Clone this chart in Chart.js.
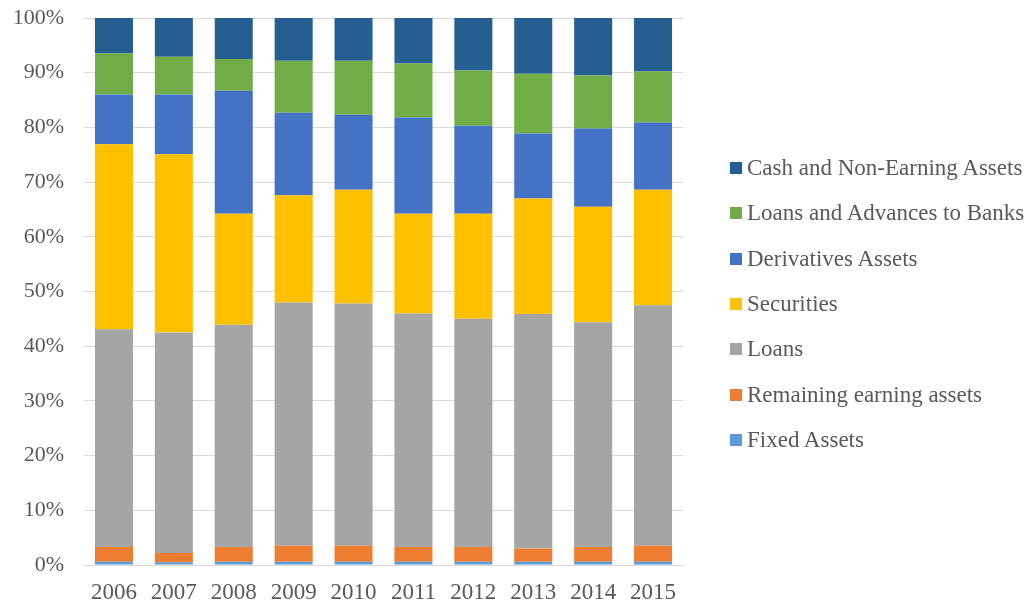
<!DOCTYPE html>
<html>
<head>
<meta charset="utf-8">
<script src="https://cdn.jsdelivr.net/npm/chart.js@4"></script>
<style>
  html, body { margin: 0; padding: 0; background: #fff; }
  #wrap { width: 1030px; height: 605px; position: relative; }
  #assetChart { position: absolute; left: 0; top: 0; }
  #legend { position: absolute; left: 730px; top: 0; }
  .legend-item {
    position: absolute; left: 0; white-space: nowrap;
    font-family: 'Liberation Serif', 'Times New Roman', serif;
    font-size: 23px; color: #595959; line-height: 26px;
  }
  .legend-item span.box {
    display: inline-block; width: 12px; height: 12px; margin-right: 5px;
    vertical-align: 1px;
  }
</style>
</head>
<body>
<div id="wrap">
  <canvas id="assetChart" width="1030" height="605"></canvas>
  <div id="legend"></div>
</div>
<script>
var years = ['2006', '2007', '2008', '2009', '2010', '2011', '2012', '2013', '2014', '2015']

// shares of total assets, %, bottom of stack first
var fixedAssets = [0.6, 0.5, 0.6, 0.6, 0.6, 0.6, 0.6, 0.6, 0.6, 0.6]
var remainingEarning = [2.7, 1.7, 2.7, 2.9, 2.9, 2.7, 2.7, 2.4, 2.7, 2.9]
var loans = [39.8, 40.3, 40.6, 44.5, 44.3, 42.7, 41.7, 42.9, 41.1, 44.0]
var securities = [33.8, 32.6, 20.3, 19.6, 20.8, 18.2, 19.2, 21.1, 21.1, 21.1]
var derivatives = [9.1, 10.9, 22.5, 15.1, 13.7, 17.6, 16.1, 11.9, 14.3, 12.3]
var loansToBanks = [7.5, 6.9, 5.8, 9.5, 9.9, 9.9, 10.1, 10.9, 9.7, 9.3]
var cashNonEarning = [6.5, 7.1, 7.5, 7.8, 7.8, 8.3, 9.6, 10.2, 10.5, 9.8]

var yTicks = [0, 10, 20, 30, 40, 50, 60, 70, 80, 90, 100]

var textColor = '#595959'
var font = "'Liberation Serif', 'Times New Roman', serif"

var series = [
  { label: 'Fixed Assets', data: fixedAssets, color: '#5B9BD5' },
  { label: 'Remaining earning assets', data: remainingEarning, color: '#ED7D31' },
  { label: 'Loans', data: loans, color: '#A5A5A5' },
  { label: 'Securities', data: securities, color: '#FFC000' },
  { label: 'Derivatives Assets', data: derivatives, color: '#4472C4' },
  { label: 'Loans and Advances to Banks', data: loansToBanks, color: '#70AD47' },
  { label: 'Cash and Non-Earning Assets', data: cashNonEarning, color: '#255E91' }
]

var ctx = document.getElementById('assetChart')
var chart = new Chart(ctx, {
  type: 'bar',
  data: {
    labels: years,
    datasets: series.map(function (s) {
      return {
        label: s.label,
        data: s.data,
        backgroundColor: s.color,
        borderWidth: 0,
        categoryPercentage: 0.635,
        barPercentage: 1
      }
    })
  },
  options: {
    responsive: false,
    animation: false,
    layout: { padding: { left: 0, right: 347, top: 18, bottom: 0 } },
    plugins: {
      tooltip: { enabled: false },
      legend: { display: false }
    },
    scales: {
      x: {
        stacked: true,
        grid: { display: false, drawTicks: false },
        border: { display: true, color: '#d9d9d9', width: 1 },
        ticks: { color: textColor, font: { family: font, size: 23, lineHeight: 1 }, padding: 16, maxRotation: 0 },
        afterFit: function (axis) {
          // chart.js reserves twice the tick padding; pin the axis band instead
          axis.height = 40
          axis.paddingLeft = 0
          axis.paddingRight = 0
        }
      },
      y: {
        stacked: true,
        min: 0,
        max: 100,
        afterBuildTicks: function (axis) {
          axis.ticks = yTicks.map(function (v) { return { value: v } })
        },
        afterFit: function (axis) {
          axis.width = 84
          axis.paddingTop = 0
          axis.paddingBottom = 0
        },
        grid: { color: '#d9d9d9', drawTicks: false },
        border: { display: false },
        ticks: {
          color: textColor,
          font: { family: font, size: 22 },
          padding: 20,
          callback: function (v) { return v + '%' }
        }
      }
    }
  }
})

// legend, top of stack first, like the reference
var legendEl = document.getElementById('legend')
series.slice().reverse().forEach(function (s, i) {
  var item = document.createElement('div')
  item.className = 'legend-item'
  item.style.top = (168 + i * 45.3 - 13) + 'px'
  var box = document.createElement('span')
  box.className = 'box'
  box.style.background = s.color
  item.appendChild(box)
  item.appendChild(document.createTextNode(s.label))
  legendEl.appendChild(item)
})
</script>
</body>
</html>
